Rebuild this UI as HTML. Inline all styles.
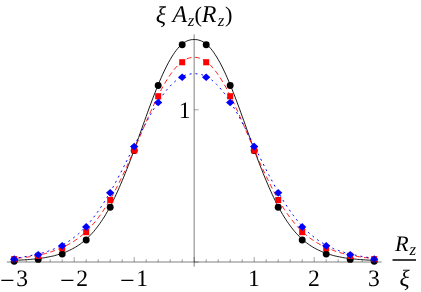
<!DOCTYPE html>
<html><head><meta charset="utf-8"><title>plot</title>
<style>
html,body{margin:0;padding:0;background:#fff;}
body{width:421px;height:292px;overflow:hidden;}
svg{display:block;will-change:transform;}
text{font-family:"Liberation Serif",serif;fill:#000;text-rendering:geometricPrecision;}
.it{font-style:italic;}
</style></head><body>
<svg width="421" height="292" viewBox="0 0 421 292">
<rect width="421" height="292" fill="#fff"/>
<path d="M14.2,260.5 L15.7,260.4 L17.2,260.3 L18.7,260.2 L20.2,260.1 L21.7,260.0 L23.2,259.9 L24.7,259.8 L26.2,259.7 L27.7,259.6 L29.2,259.5 L30.7,259.4 L32.2,259.2 L33.7,259.1 L35.2,258.9 L36.7,258.8 L38.2,258.6 L39.7,258.4 L41.2,258.2 L42.7,258.0 L44.2,257.8 L45.7,257.5 L47.2,257.2 L48.7,256.9 L50.2,256.6 L51.7,256.3 L53.2,256.0 L54.7,255.6 L56.2,255.2 L57.7,254.7 L59.2,254.3 L60.7,253.8 L62.2,253.3 L63.7,252.8 L65.2,252.2 L66.7,251.6 L68.2,250.9 L69.7,250.2 L71.2,249.5 L72.7,248.7 L74.2,247.9 L75.7,247.0 L77.2,246.1 L78.7,245.1 L80.2,244.1 L81.7,242.9 L83.2,241.8 L84.7,240.5 L86.2,239.2 L87.7,237.8 L89.2,236.3 L90.7,234.8 L92.2,233.2 L93.7,231.5 L95.2,229.7 L96.7,227.8 L98.2,225.8 L99.7,223.7 L101.2,221.6 L102.7,219.3 L104.2,217.0 L105.7,214.5 L107.2,211.9 L108.7,209.3 L110.2,206.5 L111.7,203.6 L113.2,200.6 L114.7,197.5 L116.2,194.3 L117.7,191.1 L119.2,187.7 L120.7,184.2 L122.2,180.7 L123.7,177.1 L125.2,173.4 L126.7,169.6 L128.2,165.8 L129.7,161.9 L131.2,157.9 L132.7,153.9 L134.2,149.8 L135.7,145.7 L137.2,141.5 L138.7,137.3 L140.2,133.1 L141.7,128.9 L143.2,124.7 L144.7,120.5 L146.2,116.3 L147.7,112.2 L149.2,108.0 L150.7,104.0 L152.2,100.0 L153.7,96.0 L155.2,92.2 L156.7,88.4 L158.2,84.7 L159.7,81.1 L161.2,77.7 L162.7,74.3 L164.2,71.1 L165.7,68.0 L167.2,65.0 L168.7,62.2 L170.2,59.6 L171.7,57.0 L173.2,54.7 L174.7,52.4 L176.2,50.4 L177.7,48.5 L179.2,46.8 L180.7,45.3 L182.2,44.0 L183.7,42.9 L185.2,41.9 L186.7,41.1 L188.2,40.5 L189.7,40.1 L191.2,39.7 L192.7,39.6 L194.2,39.5 L195.7,39.6 L197.2,39.7 L198.7,40.1 L200.2,40.5 L201.7,41.1 L203.2,41.9 L204.7,42.9 L206.2,44.0 L207.7,45.3 L209.2,46.8 L210.7,48.5 L212.2,50.4 L213.7,52.4 L215.2,54.7 L216.7,57.0 L218.2,59.6 L219.7,62.2 L221.2,65.0 L222.7,68.0 L224.2,71.1 L225.7,74.3 L227.2,77.7 L228.7,81.1 L230.2,84.7 L231.7,88.4 L233.2,92.2 L234.7,96.0 L236.2,100.0 L237.7,104.0 L239.2,108.0 L240.7,112.2 L242.2,116.3 L243.7,120.5 L245.2,124.7 L246.7,128.9 L248.2,133.1 L249.7,137.3 L251.2,141.5 L252.7,145.7 L254.2,149.8 L255.7,153.9 L257.2,157.9 L258.7,161.9 L260.2,165.8 L261.7,169.6 L263.2,173.4 L264.7,177.1 L266.2,180.7 L267.7,184.2 L269.2,187.7 L270.7,191.1 L272.2,194.3 L273.7,197.5 L275.2,200.6 L276.7,203.6 L278.2,206.5 L279.7,209.3 L281.2,211.9 L282.7,214.5 L284.2,217.0 L285.7,219.3 L287.2,221.6 L288.7,223.7 L290.2,225.8 L291.7,227.8 L293.2,229.7 L294.7,231.5 L296.2,233.2 L297.7,234.8 L299.2,236.3 L300.7,237.8 L302.2,239.2 L303.7,240.5 L305.2,241.8 L306.7,242.9 L308.2,244.1 L309.7,245.1 L311.2,246.1 L312.7,247.0 L314.2,247.9 L315.7,248.7 L317.2,249.5 L318.7,250.2 L320.2,250.9 L321.7,251.6 L323.2,252.2 L324.7,252.8 L326.2,253.3 L327.7,253.8 L329.2,254.3 L330.7,254.7 L332.2,255.2 L333.7,255.6 L335.2,256.0 L336.7,256.3 L338.2,256.6 L339.7,256.9 L341.2,257.2 L342.7,257.5 L344.2,257.8 L345.7,258.0 L347.2,258.2 L348.7,258.4 L350.2,258.6 L351.7,258.8 L353.2,258.9 L354.7,259.1 L356.2,259.2 L357.7,259.4 L359.2,259.5 L360.7,259.6 L362.2,259.7 L363.7,259.8 L365.2,259.9 L366.7,260.0 L368.2,260.1 L369.7,260.2 L371.2,260.3 L372.7,260.4 L374.2,260.5" fill="none" stroke="#000" stroke-width="0.9"/>
<path d="M14.2,258.5 L15.7,258.4 L17.2,258.2 L18.7,258.1 L20.2,257.9 L21.7,257.8 L23.2,257.6 L24.7,257.4 L26.2,257.2 L27.7,257.0 L29.2,256.8 L30.7,256.6 L32.2,256.3 L33.7,256.1 L35.2,255.8 L36.7,255.5 L38.2,255.2 L39.7,254.9 L41.2,254.5 L42.7,254.2 L44.2,253.8 L45.7,253.4 L47.2,253.0 L48.7,252.5 L50.2,252.1 L51.7,251.6 L53.2,251.1 L54.7,250.5 L56.2,250.0 L57.7,249.4 L59.2,248.8 L60.7,248.2 L62.2,247.5 L63.7,246.8 L65.2,246.1 L66.7,245.3 L68.2,244.6 L69.7,243.7 L71.2,242.9 L72.7,242.0 L74.2,241.0 L75.7,240.0 L77.2,239.0 L78.7,237.9 L80.2,236.7 L81.7,235.5 L83.2,234.2 L84.7,232.9 L86.2,231.5 L87.7,230.0 L89.2,228.5 L90.7,226.9 L92.2,225.2 L93.7,223.5 L95.2,221.6 L96.7,219.8 L98.2,217.8 L99.7,215.8 L101.2,213.6 L102.7,211.5 L104.2,209.2 L105.7,206.9 L107.2,204.5 L108.7,202.0 L110.2,199.4 L111.7,196.8 L113.2,194.0 L114.7,191.2 L116.2,188.4 L117.7,185.5 L119.2,182.5 L120.7,179.4 L122.2,176.3 L123.7,173.2 L125.2,170.0 L126.7,166.7 L128.2,163.4 L129.7,160.1 L131.2,156.7 L132.7,153.3 L134.2,149.8 L135.7,146.3 L137.2,142.8 L138.7,139.3 L140.2,135.8 L141.7,132.3 L143.2,128.7 L144.7,125.2 L146.2,121.8 L147.7,118.3 L149.2,114.9 L150.7,111.5 L152.2,108.2 L153.7,104.9 L155.2,101.8 L156.7,98.6 L158.2,95.6 L159.7,92.7 L161.2,89.8 L162.7,87.0 L164.2,84.4 L165.7,81.8 L167.2,79.4 L168.7,77.0 L170.2,74.8 L171.7,72.7 L173.2,70.7 L174.7,68.9 L176.2,67.1 L177.7,65.6 L179.2,64.1 L180.7,62.8 L182.2,61.6 L183.7,60.6 L185.2,59.7 L186.7,58.9 L188.2,58.3 L189.7,57.9 L191.2,57.6 L192.7,57.4 L194.2,57.3 L195.7,57.4 L197.2,57.6 L198.7,57.9 L200.2,58.3 L201.7,58.9 L203.2,59.7 L204.7,60.6 L206.2,61.6 L207.7,62.8 L209.2,64.1 L210.7,65.6 L212.2,67.1 L213.7,68.9 L215.2,70.7 L216.7,72.7 L218.2,74.8 L219.7,77.0 L221.2,79.4 L222.7,81.8 L224.2,84.4 L225.7,87.0 L227.2,89.8 L228.7,92.7 L230.2,95.6 L231.7,98.6 L233.2,101.8 L234.7,104.9 L236.2,108.2 L237.7,111.5 L239.2,114.9 L240.7,118.3 L242.2,121.8 L243.7,125.2 L245.2,128.7 L246.7,132.3 L248.2,135.8 L249.7,139.3 L251.2,142.8 L252.7,146.3 L254.2,149.8 L255.7,153.3 L257.2,156.7 L258.7,160.1 L260.2,163.4 L261.7,166.7 L263.2,170.0 L264.7,173.2 L266.2,176.3 L267.7,179.4 L269.2,182.5 L270.7,185.5 L272.2,188.4 L273.7,191.2 L275.2,194.0 L276.7,196.8 L278.2,199.4 L279.7,202.0 L281.2,204.5 L282.7,206.9 L284.2,209.2 L285.7,211.5 L287.2,213.6 L288.7,215.8 L290.2,217.8 L291.7,219.8 L293.2,221.6 L294.7,223.5 L296.2,225.2 L297.7,226.9 L299.2,228.5 L300.7,230.0 L302.2,231.5 L303.7,232.9 L305.2,234.2 L306.7,235.5 L308.2,236.7 L309.7,237.9 L311.2,239.0 L312.7,240.0 L314.2,241.0 L315.7,242.0 L317.2,242.9 L318.7,243.7 L320.2,244.6 L321.7,245.3 L323.2,246.1 L324.7,246.8 L326.2,247.5 L327.7,248.2 L329.2,248.8 L330.7,249.4 L332.2,250.0 L333.7,250.5 L335.2,251.1 L336.7,251.6 L338.2,252.1 L339.7,252.5 L341.2,253.0 L342.7,253.4 L344.2,253.8 L345.7,254.2 L347.2,254.5 L348.7,254.9 L350.2,255.2 L351.7,255.5 L353.2,255.8 L354.7,256.1 L356.2,256.3 L357.7,256.6 L359.2,256.8 L360.7,257.0 L362.2,257.2 L363.7,257.4 L365.2,257.6 L366.7,257.8 L368.2,257.9 L369.7,258.1 L371.2,258.2 L372.7,258.4 L374.2,258.5" fill="none" stroke="#ff0000" stroke-width="0.9" stroke-dasharray="5 3.4" stroke-dashoffset="5.27"/>
<path d="M14.2,258.5 L15.7,258.2 L17.2,258.0 L18.7,257.7 L20.2,257.5 L21.7,257.2 L23.2,257.0 L24.7,256.7 L26.2,256.5 L27.7,256.2 L29.2,255.9 L30.7,255.6 L32.2,255.3 L33.7,255.0 L35.2,254.7 L36.7,254.4 L38.2,254.0 L39.7,253.6 L41.2,253.2 L42.7,252.8 L44.2,252.4 L45.7,251.9 L47.2,251.5 L48.7,251.0 L50.2,250.4 L51.7,249.9 L53.2,249.3 L54.7,248.7 L56.2,248.0 L57.7,247.3 L59.2,246.6 L60.7,245.9 L62.2,245.1 L63.7,244.3 L65.2,243.4 L66.7,242.5 L68.2,241.6 L69.7,240.6 L71.2,239.5 L72.7,238.4 L74.2,237.3 L75.7,236.1 L77.2,234.9 L78.7,233.6 L80.2,232.2 L81.7,230.8 L83.2,229.3 L84.7,227.8 L86.2,226.2 L87.7,224.5 L89.2,222.8 L90.7,221.0 L92.2,219.2 L93.7,217.2 L95.2,215.2 L96.7,213.2 L98.2,211.1 L99.7,208.9 L101.2,206.7 L102.7,204.4 L104.2,202.1 L105.7,199.7 L107.2,197.2 L108.7,194.7 L110.2,192.1 L111.7,189.5 L113.2,186.8 L114.7,184.0 L116.2,181.3 L117.7,178.5 L119.2,175.6 L120.7,172.7 L122.2,169.8 L123.7,166.9 L125.2,163.9 L126.7,160.9 L128.2,157.9 L129.7,154.9 L131.2,151.9 L132.7,148.9 L134.2,145.9 L135.7,142.9 L137.2,139.9 L138.7,136.9 L140.2,134.0 L141.7,131.1 L143.2,128.2 L144.7,125.3 L146.2,122.5 L147.7,119.7 L149.2,117.0 L150.7,114.3 L152.2,111.6 L153.7,109.1 L155.2,106.6 L156.7,104.2 L158.2,101.8 L159.7,99.5 L161.2,97.3 L162.7,95.2 L164.2,93.2 L165.7,91.3 L167.2,89.4 L168.7,87.7 L170.2,86.0 L171.7,84.5 L173.2,83.0 L174.7,81.7 L176.2,80.4 L177.7,79.3 L179.2,78.2 L180.7,77.3 L182.2,76.5 L183.7,75.8 L185.2,75.2 L186.7,74.7 L188.2,74.3 L189.7,74.1 L191.2,73.9 L192.7,73.7 L194.2,73.7 L195.7,73.7 L197.2,73.9 L198.7,74.1 L200.2,74.3 L201.7,74.7 L203.2,75.2 L204.7,75.8 L206.2,76.5 L207.7,77.3 L209.2,78.2 L210.7,79.3 L212.2,80.4 L213.7,81.7 L215.2,83.0 L216.7,84.5 L218.2,86.0 L219.7,87.7 L221.2,89.4 L222.7,91.3 L224.2,93.2 L225.7,95.2 L227.2,97.3 L228.7,99.5 L230.2,101.8 L231.7,104.2 L233.2,106.6 L234.7,109.1 L236.2,111.6 L237.7,114.3 L239.2,117.0 L240.7,119.7 L242.2,122.5 L243.7,125.3 L245.2,128.2 L246.7,131.1 L248.2,134.0 L249.7,136.9 L251.2,139.9 L252.7,142.9 L254.2,145.9 L255.7,148.9 L257.2,151.9 L258.7,154.9 L260.2,157.9 L261.7,160.9 L263.2,163.9 L264.7,166.9 L266.2,169.8 L267.7,172.7 L269.2,175.6 L270.7,178.5 L272.2,181.3 L273.7,184.0 L275.2,186.8 L276.7,189.5 L278.2,192.1 L279.7,194.7 L281.2,197.2 L282.7,199.7 L284.2,202.1 L285.7,204.4 L287.2,206.7 L288.7,208.9 L290.2,211.1 L291.7,213.2 L293.2,215.2 L294.7,217.2 L296.2,219.2 L297.7,221.0 L299.2,222.8 L300.7,224.5 L302.2,226.2 L303.7,227.8 L305.2,229.3 L306.7,230.8 L308.2,232.2 L309.7,233.6 L311.2,234.9 L312.7,236.1 L314.2,237.3 L315.7,238.4 L317.2,239.5 L318.7,240.6 L320.2,241.6 L321.7,242.5 L323.2,243.4 L324.7,244.3 L326.2,245.1 L327.7,245.9 L329.2,246.6 L330.7,247.3 L332.2,248.0 L333.7,248.7 L335.2,249.3 L336.7,249.9 L338.2,250.4 L339.7,251.0 L341.2,251.5 L342.7,251.9 L344.2,252.4 L345.7,252.8 L347.2,253.2 L348.7,253.6 L350.2,254.0 L351.7,254.4 L353.2,254.7 L354.7,255.0 L356.2,255.3 L357.7,255.6 L359.2,255.9 L360.7,256.2 L362.2,256.5 L363.7,256.7 L365.2,257.0 L366.7,257.2 L368.2,257.5 L369.7,257.7 L371.2,258.0 L372.7,258.2 L374.2,258.5" fill="none" stroke="#0000ff" stroke-width="1" stroke-dasharray="2 3.85" stroke-dashoffset="1.15"/>
<circle cx="14.2" cy="261.3" r="3.45" fill="#000"/>
<circle cx="38.2" cy="259.4" r="3.45" fill="#000"/>
<circle cx="62.2" cy="254.1" r="3.45" fill="#000"/>
<circle cx="86.2" cy="240.0" r="3.45" fill="#000"/>
<circle cx="110.2" cy="207.3" r="3.45" fill="#000"/>
<circle cx="134.2" cy="150.6" r="3.45" fill="#000"/>
<circle cx="158.2" cy="85.5" r="3.45" fill="#000"/>
<circle cx="182.2" cy="44.8" r="3.45" fill="#000"/>
<circle cx="206.2" cy="44.8" r="3.45" fill="#000"/>
<circle cx="230.2" cy="85.5" r="3.45" fill="#000"/>
<circle cx="254.2" cy="150.6" r="3.45" fill="#000"/>
<circle cx="278.2" cy="207.3" r="3.45" fill="#000"/>
<circle cx="302.2" cy="240.0" r="3.45" fill="#000"/>
<circle cx="326.2" cy="254.1" r="3.45" fill="#000"/>
<circle cx="350.2" cy="259.4" r="3.45" fill="#000"/>
<circle cx="374.2" cy="261.3" r="3.45" fill="#000"/>
<rect x="11.2" y="256.1" width="6" height="6.1" fill="#ff0000"/>
<rect x="35.2" y="252.8" width="6" height="6.1" fill="#ff0000"/>
<rect x="59.2" y="245.1" width="6" height="6.1" fill="#ff0000"/>
<rect x="83.2" y="229.1" width="6" height="6.1" fill="#ff0000"/>
<rect x="107.2" y="197.0" width="6" height="6.1" fill="#ff0000"/>
<rect x="131.2" y="147.4" width="6" height="6.1" fill="#ff0000"/>
<rect x="155.2" y="93.2" width="6" height="6.1" fill="#ff0000"/>
<rect x="179.2" y="59.2" width="6" height="6.1" fill="#ff0000"/>
<rect x="203.2" y="59.2" width="6" height="6.1" fill="#ff0000"/>
<rect x="227.2" y="93.2" width="6" height="6.1" fill="#ff0000"/>
<rect x="251.2" y="147.4" width="6" height="6.1" fill="#ff0000"/>
<rect x="275.2" y="197.0" width="6" height="6.1" fill="#ff0000"/>
<rect x="299.2" y="229.1" width="6" height="6.1" fill="#ff0000"/>
<rect x="323.2" y="245.1" width="6" height="6.1" fill="#ff0000"/>
<rect x="347.2" y="252.8" width="6" height="6.1" fill="#ff0000"/>
<rect x="371.2" y="256.1" width="6" height="6.1" fill="#ff0000"/>
<path d="M10.0,259.2 L14.2,255.3 L18.3,259.2 L14.2,263.1Z" fill="#0000ff"/>
<path d="M34.0,254.7 L38.2,250.9 L42.3,254.7 L38.2,258.6Z" fill="#0000ff"/>
<path d="M58.0,245.8 L62.2,242.0 L66.3,245.8 L62.2,249.7Z" fill="#0000ff"/>
<path d="M82.0,226.9 L86.2,223.1 L90.3,226.9 L86.2,230.8Z" fill="#0000ff"/>
<path d="M106.0,192.8 L110.2,189.0 L114.3,192.8 L110.2,196.7Z" fill="#0000ff"/>
<path d="M130.0,146.6 L134.2,142.8 L138.3,146.6 L134.2,150.4Z" fill="#0000ff"/>
<path d="M154.0,102.5 L158.2,98.7 L162.3,102.5 L158.2,106.3Z" fill="#0000ff"/>
<path d="M178.0,77.2 L182.2,73.4 L186.3,77.2 L182.2,81.0Z" fill="#0000ff"/>
<path d="M202.0,77.2 L206.2,73.4 L210.3,77.2 L206.2,81.0Z" fill="#0000ff"/>
<path d="M226.0,102.5 L230.2,98.7 L234.3,102.5 L230.2,106.3Z" fill="#0000ff"/>
<path d="M250.0,146.6 L254.2,142.8 L258.3,146.6 L254.2,150.4Z" fill="#0000ff"/>
<path d="M274.1,192.8 L278.2,189.0 L282.3,192.8 L278.2,196.7Z" fill="#0000ff"/>
<path d="M298.1,226.9 L302.2,223.1 L306.3,226.9 L302.2,230.8Z" fill="#0000ff"/>
<path d="M322.1,245.8 L326.2,242.0 L330.3,245.8 L326.2,249.7Z" fill="#0000ff"/>
<path d="M346.1,254.7 L350.2,250.9 L354.3,254.7 L350.2,258.6Z" fill="#0000ff"/>
<path d="M370.1,259.2 L374.2,255.3 L378.3,259.2 L374.2,263.1Z" fill="#0000ff"/>
<g stroke="#000" stroke-width="0.5" fill="none">
<line x1="6.8" y1="262" x2="381.6" y2="262"/>
<line x1="194.15" y1="34.4" x2="194.15" y2="266.7"/>
</g>
<g stroke="#000" stroke-width="0.36" fill="none">
<line x1="14.2" y1="262" x2="14.2" y2="257" />
<line x1="26.2" y1="262" x2="26.2" y2="259.2" />
<line x1="38.2" y1="262" x2="38.2" y2="259.2" />
<line x1="50.2" y1="262" x2="50.2" y2="259.2" />
<line x1="62.2" y1="262" x2="62.2" y2="259.2" />
<line x1="74.2" y1="262" x2="74.2" y2="257" />
<line x1="86.2" y1="262" x2="86.2" y2="259.2" />
<line x1="98.2" y1="262" x2="98.2" y2="259.2" />
<line x1="110.2" y1="262" x2="110.2" y2="259.2" />
<line x1="122.2" y1="262" x2="122.2" y2="259.2" />
<line x1="134.2" y1="262" x2="134.2" y2="257" />
<line x1="146.2" y1="262" x2="146.2" y2="259.2" />
<line x1="158.2" y1="262" x2="158.2" y2="259.2" />
<line x1="170.2" y1="262" x2="170.2" y2="259.2" />
<line x1="182.2" y1="262" x2="182.2" y2="259.2" />
<line x1="194.2" y1="262" x2="194.2" y2="257" />
<line x1="206.2" y1="262" x2="206.2" y2="259.2" />
<line x1="218.2" y1="262" x2="218.2" y2="259.2" />
<line x1="230.2" y1="262" x2="230.2" y2="259.2" />
<line x1="242.2" y1="262" x2="242.2" y2="259.2" />
<line x1="254.2" y1="262" x2="254.2" y2="257" />
<line x1="266.2" y1="262" x2="266.2" y2="259.2" />
<line x1="278.2" y1="262" x2="278.2" y2="259.2" />
<line x1="290.2" y1="262" x2="290.2" y2="259.2" />
<line x1="302.2" y1="262" x2="302.2" y2="259.2" />
<line x1="314.2" y1="262" x2="314.2" y2="257" />
<line x1="326.2" y1="262" x2="326.2" y2="259.2" />
<line x1="338.2" y1="262" x2="338.2" y2="259.2" />
<line x1="350.2" y1="262" x2="350.2" y2="259.2" />
<line x1="362.2" y1="262" x2="362.2" y2="259.2" />
<line x1="374.2" y1="262" x2="374.2" y2="257" />
<line x1="194.2" y1="109.8" x2="198.8" y2="109.8"/>
<line x1="194.2" y1="262" x2="198.8" y2="262"/>
</g>
<g>
<g font-size="23.6">
<text><tspan x="0.0" y="288.8" font-size="26">−</tspan><tspan x="16.2" y="286.2">3</tspan></text>
<text><tspan x="60.0" y="288.8" font-size="26">−</tspan><tspan x="76.2" y="286.2">2</tspan></text>
<text><tspan x="120.0" y="288.8" font-size="26">−</tspan><tspan x="136.2" y="286.2">1</tspan></text>
<text x="253.9" y="286.2" text-anchor="middle">1</text>
<text x="313.9" y="286.2" text-anchor="middle">2</text>
<text x="373.9" y="286.2" text-anchor="middle">3</text>
<text x="178.8" y="117.5">1</text>
</g>
<text font-size="24"><tspan x="155.8" y="22.8" class="it">&#958;</tspan> <tspan x="172.6" y="22.3" class="it">A</tspan><tspan x="187.8" y="25.6" class="it" font-size="17">z</tspan><tspan x="194.4" y="22" font-size="22.4">(</tspan><tspan x="201.7" y="22.3" class="it">R</tspan><tspan x="217.7" y="25.6" class="it" font-size="17">z</tspan><tspan x="225" y="22" font-size="22.4">)</tspan></text>
<text font-size="22.3"><tspan x="395.1" y="250.5" class="it">R</tspan><tspan x="409.4" y="254.6" class="it" font-size="17">z</tspan></text>
<line x1="392.5" y1="260" x2="416" y2="260" stroke="#000" stroke-width="1.5"/>
<text x="399.5" y="286.4" font-size="23.5" class="it">&#958;</text>
</g>
</svg>
</body></html>
